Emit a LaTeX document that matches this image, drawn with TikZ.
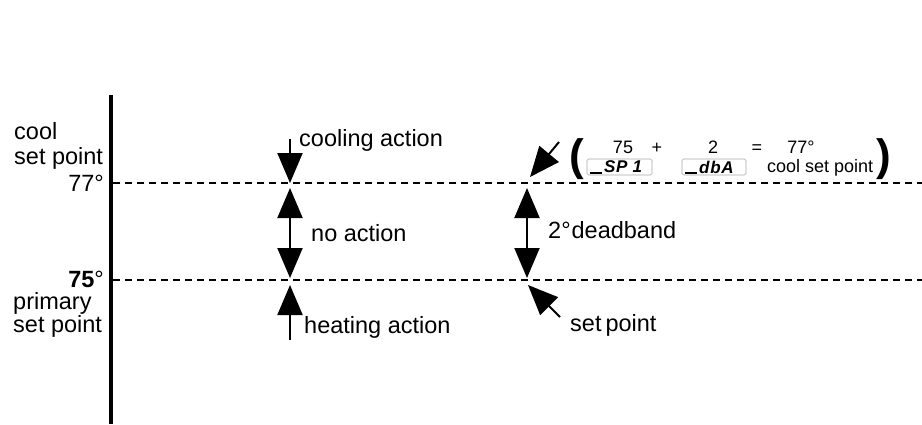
\documentclass[tikz,border=0pt]{standalone}
\usepackage{fontspec}
\setmainfont{Liberation Sans}
\usetikzlibrary{arrows.meta,positioning}

\begin{document}
\begin{tikzpicture}[x=1pt,y=-1pt,
  lab/.style={font=\fontsize{23.5}{26}\selectfont,inner sep=0pt},
  note/.style={font=\fontsize{18}{20}\selectfont,inner sep=0pt},
  seg/.style={font=\fontsize{17}{17}\selectfont\bfseries\itshape\addfontfeature{LetterSpace=4},inner sep=0pt},
  paren/.style={font=\fontsize{44}{44}\selectfont\bfseries,inner sep=0pt},
  level/.style={line width=1.8pt,dash pattern=on 7pt off 5pt},
  bigtip/.style={line width=2pt,-{Triangle[width=25pt,length=30pt]}},
  twotip/.style={line width=2pt,{Triangle[width=25pt,length=30pt]}-{Triangle[width=25pt,length=30pt]}},
  display/.style={draw=gray!70,line width=0.6pt,rounded corners=1.5pt,minimum width=65pt,minimum height=16pt,inner sep=0pt}]
\useasboundingbox (0,0) rectangle (922,424);
% temperature scale
\coordinate (axtop) at (111,95);
\coordinate (axbot) at (111,424);
\draw[line width=4pt] (axtop) -- (axbot);
% the two set point levels
\def\ycool{183}
\def\yprim{280}
\foreach \lv/\yy in {cool/\ycool,prim/\yprim} {
  \coordinate (\lv L) at (113,\yy);
  \coordinate (\lv R) at (922,\yy);
  \draw[level] (\lv L) -- (\lv R);
}
% labels left of the scale
\node[lab,anchor=west] (coolA) at (14,131.5) {cool};
\node[lab,anchor=west] (coolB) at (14,158) {set point};
\node[lab,anchor=east] (deg77) at (104,183) {77°};
\node[lab,anchor=east] (deg75) at (104,279.5) {\textbf{75}°};
\node[lab,anchor=west] (primA) at (13,303.5) {primary};
\node[lab,anchor=west] (primB) at (13,326) {set point};
% control actions
\coordinate (coolS) at (290,139);
\coordinate (coolT) at (290,\ycool);
\coordinate (noT) at (290,188);
\coordinate (noB) at (290,278);
\coordinate (heatS) at (290,340);
\coordinate (heatT) at (290,285);
\draw[bigtip] (coolS) -- (coolT);
\draw[twotip] (noT) -- (noB);
\draw[bigtip] (heatS) -- (heatT);
\node[lab,anchor=west] (cooling) at (299,140) {cooling action};
\node[lab,anchor=west] (noact) at (311,233) {no action};
\node[lab,anchor=west] (heating) at (304,327) {heating action};
% deadband
\coordinate (dbT) at (527,188);
\coordinate (dbB) at (527,278);
\draw[twotip] (dbT) -- (dbB);
\node[lab,anchor=west] (dband) at (548,230) {2°\hspace{1pt}deadband};
\coordinate (spS) at (560,317);
\coordinate (spT) at (528,285);
\draw[bigtip] (spS) -- (spT);
\node[lab,anchor=west] (setpt) at (570,325) {set\hspace{4pt}point};
\coordinate (cspS) at (559,142);
\coordinate (cspT) at (530,177);
\draw[bigtip] (cspS) -- (cspT);
% cool set point = SP1 + dbA
\node[paren] (lpar) at (577,159) {(};
\node[paren] (rpar) at (884,159) {)};
\node[note,anchor=base] (n75) at (623,153) {75};
\node[note,anchor=base] (plus) at (657,153) {+};
\node[note,anchor=base] (n2) at (713,153) {2};
\node[note,anchor=base] (eq) at (757,153) {=};
\node[note,anchor=base] (n77) at (801,153) {77°};
\node[display] (spbox) at (619.5,167) {};
\node[seg,anchor=west] (sptxt) at (604,167) {SP\hspace{5pt}1};
\draw[line width=1.4pt] ([xshift=3pt,yshift=2.5pt]spbox.south west) -- ++(12,0);
\node[display,minimum width=64pt] (dbbox) at (714,167) {};
\node[seg,anchor=west] (dbtxt) at (699,167) {dbA};
\draw[line width=1.4pt] ([xshift=3pt,yshift=2.5pt]dbbox.south west) -- ++(12,0);
\node[note,anchor=base west] (cspt) at (767,172) {cool set point};
\end{tikzpicture}
\end{document}
